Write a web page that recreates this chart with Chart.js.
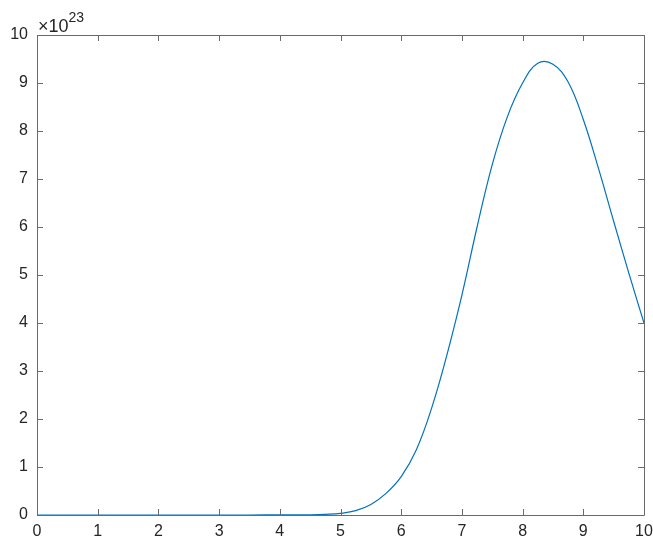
<!DOCTYPE html>
<html>
<head>
<meta charset="utf-8">
<script src="https://cdn.jsdelivr.net/npm/chart.js@4/dist/chart.umd.min.js"></script>
<style>
  html, body { margin: 0; padding: 0; background: #fff; }
  #wrap { width: 653px; height: 544px; }
</style>
</head>
<body>
<div id="wrap"><canvas id="graph" width="653" height="544"></canvas></div>
<script>
// values (y in units of 1e23)
const xValues = [0, 0.5, 1, 1.5, 2, 2.5, 3, 3.5, 4, 4.25, 4.5, 4.75, 5, 5.25, 5.5, 5.75, 6, 6.25, 6.5, 6.75,
                 7, 7.25, 7.5, 7.75, 8, 8.25, 8.5, 8.75, 9, 9.25, 9.5, 9.75, 10];
const yValues = [0, 0, 0, 0, 0, 0, 0, 0.0005, 0.001, 0.002, 0.005, 0.015, 0.035, 0.09, 0.22, 0.45, 0.80, 1.36, 2.22, 3.32,
                 4.58, 6.0, 7.3, 8.3, 9.0, 9.41, 9.39, 9.02, 8.24, 7.22, 6.12, 5.04, 4.0];
const xTicks = [0, 1, 2, 3, 4, 5, 6, 7, 8, 9, 10];
const yTicks = [0, 1, 2, 3, 4, 5, 6, 7, 8, 9, 10];
const exponentLabel = '23';

const points = xValues.map((x, i) => ({ x: x, y: yValues[i] }));

// draws the matlab-style box, inward ticks and the x10^23 label
const boxPlugin = {
    id: 'box',
    afterDraw(chart) {
        const c = chart.ctx;
        const a = chart.chartArea;
        const xs = chart.scales.x, ys = chart.scales.y;
        const len = 6;
        c.save();
        c.strokeStyle = '#6a6a6a';
        c.lineWidth = 1;
        c.beginPath();
        c.rect(Math.round(a.left) + 0.5, Math.round(a.top) + 0.5,
               Math.round(a.right - a.left), Math.round(a.bottom - a.top));
        xTicks.forEach(v => {
            const px = Math.round(xs.getPixelForValue(v)) + 0.5;
            c.moveTo(px, a.bottom); c.lineTo(px, a.bottom - len);
            c.moveTo(px, a.top); c.lineTo(px, a.top + len);
        });
        yTicks.forEach(v => {
            const py = Math.round(ys.getPixelForValue(v)) + 0.5;
            c.moveTo(a.left, py); c.lineTo(a.left + len, py);
            c.moveTo(a.right, py); c.lineTo(a.right - len, py);
        });
        c.stroke();

        c.fillStyle = '#262626';
        c.textBaseline = 'alphabetic';
        c.textAlign = 'left';
        c.font = '18px "Liberation Sans", Arial, sans-serif';
        c.fillText('\u00d710', a.left + 1, a.top - 3);
        const w = c.measureText('\u00d710').width;
        c.font = '14px "Liberation Sans", Arial, sans-serif';
        c.fillText(exponentLabel, a.left + 1 + w, a.top - 13);
        c.restore();
    }
};

var ctx = document.getElementById('graph').getContext('2d');
var myChart = new Chart(ctx, {
    type: 'line',
    data: {
        datasets: [{
            label: 'y',
            data: points,
            borderColor: '#0072BD',
            borderWidth: 1.2,
            fill: false,
            tension: 0.4
        }]
    },
    options: {
        responsive: false,
        animation: false,
        layout: { padding: { top: 35, right: 9, left: 0, bottom: 0 } },
        plugins: {
            legend: { display: false },
            tooltip: { enabled: false }
        },
        elements: {
            point: { radius: 0 }
        },
        scales: {
            x: {
                type: 'linear',
                min: 0,
                max: 10,
                afterBuildTicks: s => { s.ticks = xTicks.map(v => ({ value: v })); },
                afterFit: s => { s.height = 29; s.paddingLeft = 0; s.paddingRight = 0; },
                grid: { display: false, drawTicks: false },
                border: { display: false },
                ticks: {
                    padding: 7,
                    color: '#262626',
                    maxRotation: 0,
                    font: { family: '"Liberation Sans", Arial, sans-serif', size: 16 }
                }
            },
            y: {
                type: 'linear',
                min: 0,
                max: 10,
                afterBuildTicks: s => { s.ticks = yTicks.map(v => ({ value: v })); },
                afterFit: s => { s.width = 37; s.paddingTop = 0; s.paddingBottom = 0; },
                grid: { display: false, drawTicks: false },
                border: { display: false },
                ticks: {
                    padding: 9,
                    color: '#262626',
                    font: { family: '"Liberation Sans", Arial, sans-serif', size: 16 }
                }
            }
        }
    },
    plugins: [boxPlugin]
});
</script>
</body>
</html>
